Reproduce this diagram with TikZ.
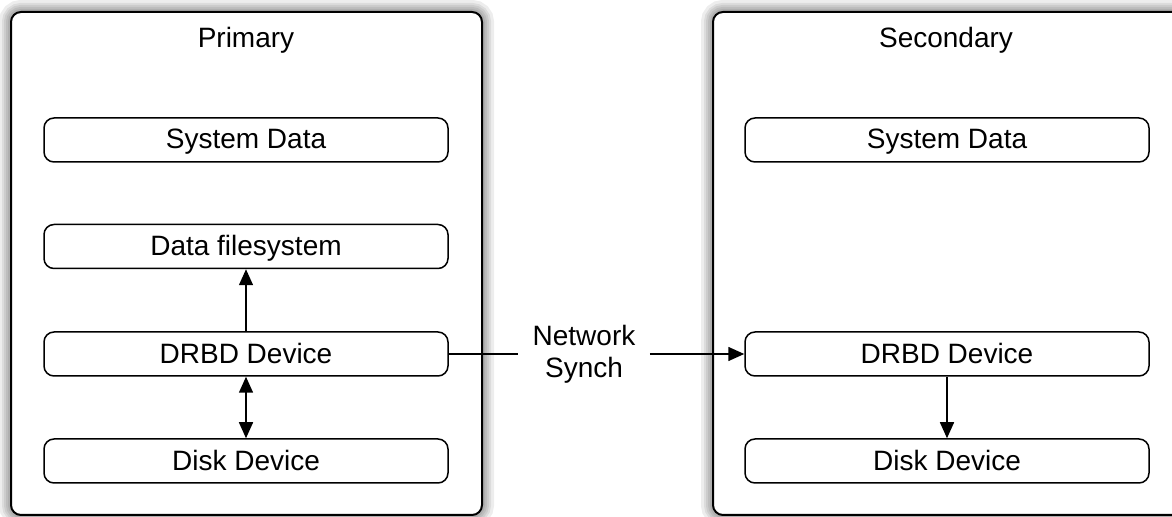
\documentclass[tikz,border=0pt]{standalone}
\usepackage{fontspec}
\setmainfont{Liberation Sans}
\usetikzlibrary{arrows.meta}
\begin{document}
\begin{tikzpicture}[x=0.5pt,y=-0.5pt,
   font=\fontsize{14}{16}\selectfont,
   host/.style={draw, line width=1pt, rounded corners=5pt, fill=white},
   layer/.style={draw, line width=0.75pt, rounded corners=5pt, minimum width=202pt, minimum height=22pt, inner sep=0pt, text depth=1pt},
   >={Triangle[length=8pt,width=7pt]}]
   \clip (0,0) rectangle (1172,517);
   \fill[white] (0,0) rectangle (1172,517);

   % shadows of the two hosts
   \foreach \w in {12,9,7,5,3}
     {\draw[black, opacity=0.07, line width=\w pt, rounded corners=5pt] (11,12) rectangle (482,515);
      \draw[black, opacity=0.07, line width=\w pt, rounded corners=5pt] (713,12) rectangle (1200,515);}
   \draw[host] (11,12) rectangle (482,515);
   \draw[host] (713,12) rectangle (1200,515);

   % primary
   \node (ptitle) at (246,40) {Primary};
   \node[layer] (psys)  at (246,140)   {System Data};
   \node[layer] (pfs)   at (246,246.5) {Data filesystem};
   \node[layer] (pdrbd) at (246,354)   {DRBD Device};
   \node[layer] (pdisk) at (246,461)   {Disk Device};

   % secondary
   \node (stitle) at (946,40) {Secondary};
   \node[layer] (ssys)  at (947,140) {System Data};
   \node[layer] (sdrbd) at (947,354) {DRBD Device};
   \node[layer] (sdisk) at (947,461) {Disk Device};

   \draw[->, line width=0.75pt] (pdrbd) -- (pfs);
   \draw[<->, line width=0.75pt] (pdrbd) -- (pdisk);
   \draw[->, line width=0.75pt] (sdrbd) -- (sdisk);

   \node[align=center, inner xsep=7pt] (sync) at (584,354) {Network\\Synch};
   \draw[line width=0.75pt] (pdrbd) -- (pdrbd -| sync.west);
   \draw[->, line width=0.75pt] (sdrbd -| sync.east) -- (sdrbd);
\end{tikzpicture}
\end{document}
